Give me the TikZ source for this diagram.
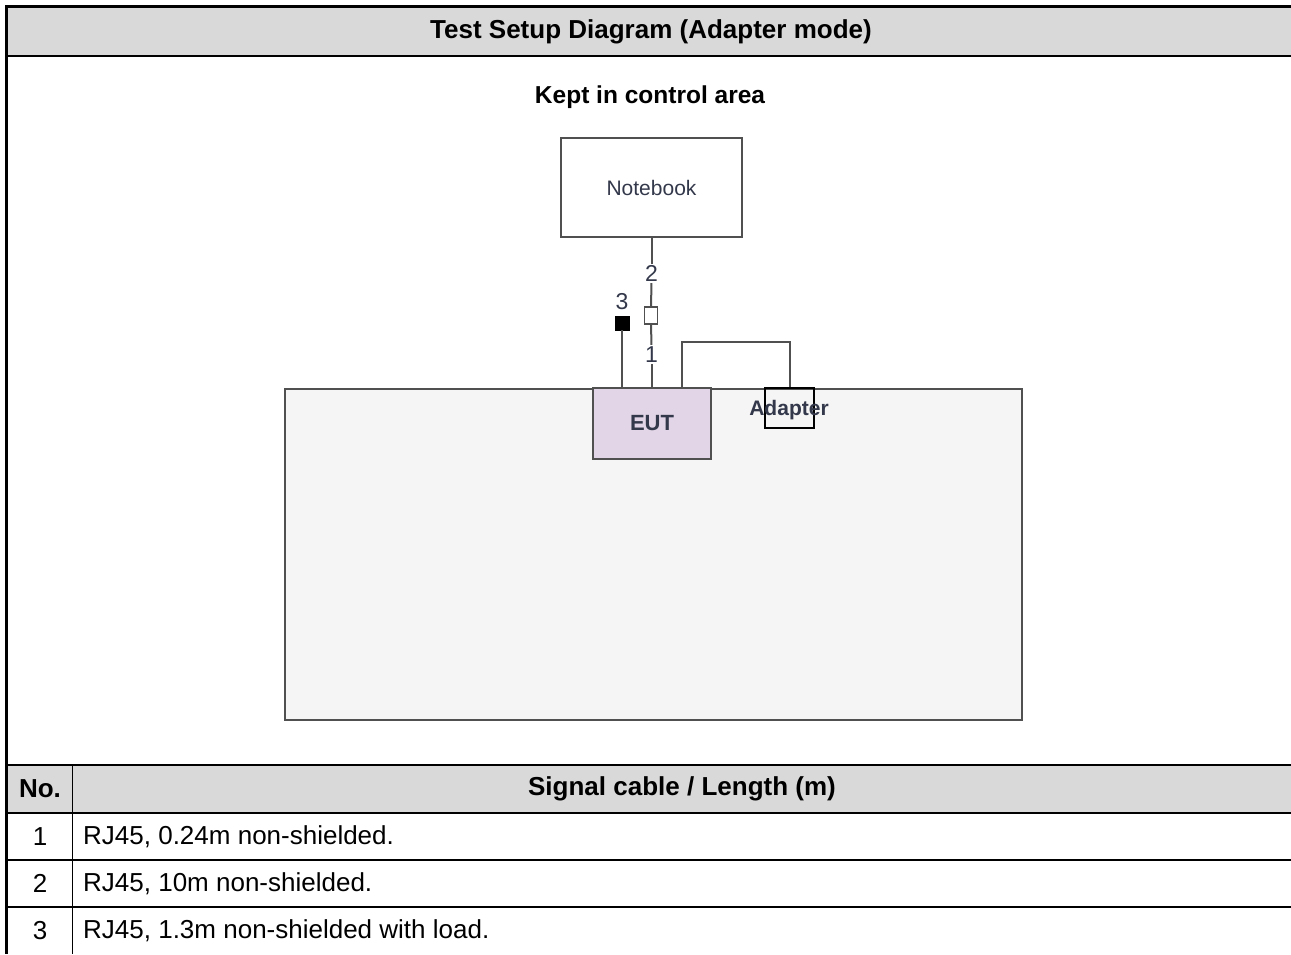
\documentclass[tikz,border=0pt]{standalone}
\usepackage{fontspec}
\setmainfont{Liberation Sans}
\usetikzlibrary{positioning}

\definecolor{headgrey}{HTML}{D9D9D9}
\definecolor{tablegrey}{HTML}{F5F5F5}
\definecolor{edgegrey}{HTML}{505050}
\definecolor{eutfill}{HTML}{E1D5E7}
\definecolor{labelink}{HTML}{33384A}

\tikzset{
	unitbox/.style={draw=edgegrey, line width=2pt, inner sep=0pt},
	cable/.style={draw=edgegrey, line width=2pt},
	cablenum/.style={inner sep=1.5pt, font=\fontsize{23}{26}\selectfont, text=labelink},
	rowtext/.style={anchor=west, inner sep=0pt, font=\fontsize{26}{30}\selectfont},
	rownum/.style={inner sep=0pt, font=\fontsize{26}{30}\selectfont},
	gridline/.style={line width=2pt}
}

\begin{document}
\begin{tikzpicture}[x=1pt, y=-1pt]
			%%%%% START %%%%%
			\useasboundingbox (0, 0) rectangle (1291, 954);
			
			% header bands
			\fill[headgrey] (7, 7) rectangle (1291, 55);
			\fill[headgrey] (7, 765) rectangle (1291, 812);
			\node[inner sep=0pt, font=\bfseries\fontsize{26}{30}\selectfont] (title) at (651, 32) {Test Setup Diagram (Adapter mode)};
			
			% table frame
			\draw[line width=3pt] (5, 6.5) -- (1291, 6.5);
			\draw[line width=3pt] (6.5, 5) -- (6.5, 954);
			\draw[gridline] (7, 55.5) -- (1291, 55.5);
			\draw[gridline] (7, 765) -- (1291, 765);
			\draw[gridline] (7, 812.5) -- (1291, 812.5);
			\draw[gridline] (7, 860) -- (1291, 860);
			\draw[gridline] (7, 907) -- (1291, 907);
			\draw[line width=1.7pt] (72.5, 764) -- (72.5, 954);
			
			% setup
			\node[inner sep=0pt, font=\bfseries\fontsize{24.5}{28}\selectfont] (area) at (650, 97) {Kept in control area};
			\node[unitbox, minimum width=181pt, minimum height=99pt, font=\fontsize{21}{24}\selectfont, text=labelink] (notebook) at (651.5, 187.5) {Notebook};
			
			\draw[draw=edgegrey, fill=tablegrey, line width=2pt] (285, 388.5) rectangle (1022, 720);
			
			\node[unitbox, fill=eutfill, minimum width=118pt, minimum height=71pt, font=\bfseries\fontsize{22}{25}\selectfont, text=labelink] (eut) at (652, 423.5) {EUT};
			\node[draw=black, line width=1.6pt, inner sep=0pt, minimum width=49pt, minimum height=40pt] (adapter) at (789.5, 408) {};
			\node[inner sep=0pt, font=\bfseries\fontsize{21}{24}\selectfont, text=labelink] (adaptertext) at (789, 410) {Adapter};
			
			% cables
			\node[cablenum] (num2) at (651.5, 273.5) {2};
			\node[draw=edgegrey, fill=white, line width=1.6pt, inner sep=0pt, minimum width=13pt, minimum height=17pt] (plug) at (651, 315.5) {};
			\node[cablenum] (num1) at (651.5, 354.5) {1};
			\node[draw=black, fill=black, inner sep=0pt, minimum size=14pt] (load) at (622, 323) {};
			\node[cablenum] (num3) at (622, 301.5) {3};
			
			\draw[cable] (notebook) -- (num2);
			\draw[cable] (num2) -- (plug);
			\draw[cable] (plug) -- (num1);
			\draw[cable] (num1) -- (num1 |- eut.north);
			\draw[cable] (load) -- (load |- eut.north);
			\draw[cable] ([xshift=30pt]eut.north) -- ++(0, -45) -| (adapter.north);
			
			% cable list
			\node[inner sep=0pt, font=\bfseries\fontsize{26}{30}\selectfont] (nohead) at (40, 789) {No.};
			\node[inner sep=0pt, font=\bfseries\fontsize{26}{30}\selectfont] (cablehead) at (682, 789) {Signal cable / Length (m)};
			
			\node[rownum] (no1) at (40, 836.5) {1};
			\node[rowtext] (row1) at (83, 836.5) {RJ45, 0.24m non-shielded.};
			\node[rownum] (no2) at (40, 883.5) {2};
			\node[rowtext] (row2) at (83, 883.5) {RJ45, 10m non-shielded.};
			\node[rownum] (no3) at (40, 930.5) {3};
			\node[rowtext] (row3) at (83, 930.5) {RJ45, 1.3m non-shielded with load.};
			
			%%%%% END %%%%%
		\end{tikzpicture}
\end{document}
